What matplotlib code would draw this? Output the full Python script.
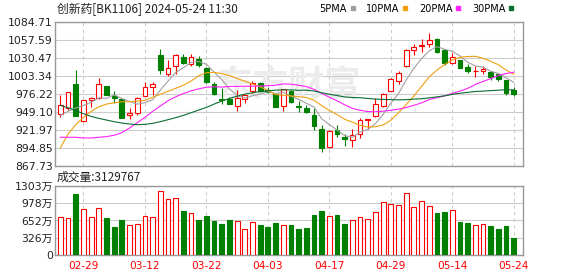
import matplotlib
matplotlib.use('Agg')
import matplotlib.pyplot as plt
from matplotlib.lines import Line2D
import numpy as np

plt.rcParams['font.family'] = ['DejaVu Sans', 'Noto Sans CJK SC']

# trading days shown (MM-DD)
days = ['02-26', '02-27', '02-28', '02-29',
        '03-01', '03-04', '03-05', '03-06', '03-07', '03-08', '03-11', '03-12', '03-13', '03-14',
        '03-15', '03-18', '03-19', '03-20', '03-21', '03-22', '03-25', '03-26', '03-27', '03-28', '03-29',
        '04-01', '04-02', '04-03', '04-08', '04-09', '04-10', '04-11', '04-12', '04-15', '04-16',
        '04-17', '04-18', '04-19', '04-22', '04-23', '04-24', '04-25', '04-26', '04-29', '04-30',
        '05-06', '05-07', '05-08', '05-09', '05-10', '05-13', '05-14', '05-15', '05-16', '05-17',
        '05-20', '05-21', '05-22', '05-23', '05-24']

open_ = [946.7, 955.7, 990.7, 935.2, 967.7, 970.2, 987.7, 973.7, 968.7, 944.7,
         948.2, 973.7, 987.2, 1035.7, 1006.7, 1018.2, 1032.7, 1021.7, 1029.2, 1015.7,
         991.0, 968.7, 969.2, 958.2, 969.2, 980.2, 993.2, 982.7, 975.7, 957.7,
         980.7, 958.7, 955.7, 945.2, 923.2, 895.7, 922.7, 910.7, 906.7, 915.2,
         937.0, 943.2, 958.2, 981.2, 995.7, 1018.2, 1042.7, 1048.7, 1051.7, 1059.2,
         1042.5, 1022.7, 1028.2, 1016.2, 1010.2, 1010.2, 1009.2, 1005.7, 996.7, 981.7]
high = [974.2, 978.7, 1011.7, 967.7, 971.7, 1000.7, 987.7, 980.7, 968.7, 955.7,
        971.7, 993.7, 993.7, 1044.7, 1028.2, 1036.7, 1036.7, 1036.7, 1033.2, 1016.7,
        994.0, 985.2, 971.7, 981.7, 974.7, 995.2, 994.2, 986.7, 977.7, 984.2,
        981.7, 965.7, 959.2, 955.7, 930.2, 921.7, 930.2, 916.7, 923.2, 940.2,
        938.2, 970.7, 978.2, 1000.7, 1010.2, 1043.7, 1051.7, 1059.2, 1067.5, 1060.7,
        1044.0, 1037.5, 1028.2, 1020.7, 1018.0, 1017.7, 1010.7, 1007.7, 997.7, 986.5]
low = [941.7, 951.7, 943.2, 934.2, 956.7, 969.0, 974.2, 962.7, 940.2, 938.2,
       944.2, 973.0, 974.7, 1006.7, 1003.7, 1006.7, 1021.7, 1017.7, 1016.7, 993.2,
       974.5, 961.7, 960.7, 950.7, 962.7, 978.2, 979.2, 977.7, 956.0, 950.7,
       962.7, 949.2, 947.7, 922.7, 888.2, 895.2, 910.7, 898.2, 896.7, 910.2,
       923.2, 941.7, 956.7, 980.2, 991.7, 1016.7, 1035.7, 1039.2, 1046.7, 1038.2,
       1020.5, 1021.2, 1015.7, 1007.7, 1002.5, 1006.7, 997.7, 995.7, 974.5, 972.7]
close = [959.2, 978.7, 943.2, 967.7, 970.2, 991.7, 975.2, 970.2, 940.2, 947.7,
         970.7, 987.2, 991.7, 1012.7, 1015.7, 1035.7, 1023.2, 1031.7, 1020.2, 994.2,
         976.0, 967.7, 961.7, 970.2, 974.7, 993.2, 980.7, 979.2, 956.7, 984.2,
         964.2, 957.2, 949.2, 928.7, 894.7, 920.7, 916.7, 907.7, 914.2, 936.7,
         938.2, 961.7, 976.7, 999.2, 1007.7, 1042.7, 1047.7, 1050.7, 1057.7, 1039.2,
         1022.5, 1032.2, 1015.7, 1010.7, 1011.2, 1013.2, 1001.7, 999.2, 977.7, 976.7]

# volume in 万
volume = [711, 692, 1152, 862, 711, 881, 699, 529, 661, 567,
          585, 737, 711, 1209, 1051, 1070, 831, 787, 661, 737,
          642, 585, 661, 642, 485, 617, 567, 529, 604, 567,
          567, 485, 504, 755, 831, 737, 755, 585, 661, 711,
          680, 806, 994, 963, 944, 1165, 900, 1013, 925, 793,
          812, 850, 623, 604, 567, 585, 548, 491, 548, 313]

ma5 = [944, 950, 955, 959, 963.8, 970.3, 969.6, 975.0, 969.5, 965.0,
       960.8, 963.2, 967.5, 982.0, 995.6, 1008.6, 1015.8, 1023.8, 1025.3, 1021.0,
       1009.1, 998.0, 984.0, 974.0, 970.1, 973.5, 976.1, 979.6, 976.9, 978.8,
       973.0, 968.3, 962.3, 956.7, 938.8, 930.1, 922.0, 913.7, 910.8, 919.2,
       922.7, 931.7, 945.5, 962.5, 976.7, 997.6, 1014.8, 1029.6, 1041.3, 1047.6,
       1043.6, 1040.5, 1033.5, 1024.1, 1018.5, 1016.6, 1010.5, 1007.2, 1000.6, 993.7]
ma10 = [895, 916, 930, 941, 950, 957, 961, 963, 964.5, 964.4,
        965.6, 966.4, 971.3, 975.8, 980.3, 984.7, 989.5, 995.7, 1003.7, 1008.3,
        1008.8, 1006.9, 1003.9, 999.6, 995.5, 991.3, 987.0, 981.8, 975.4, 974.4,
        973.3, 972.2, 971.0, 966.8, 958.8, 951.6, 945.2, 938.0, 933.8, 929.0,
        926.4, 926.9, 929.6, 936.7, 948.0, 960.2, 973.3, 987.6, 1001.9, 1012.2,
        1020.6, 1027.6, 1031.5, 1032.7, 1033.0, 1030.1, 1025.5, 1020.3, 1012.3, 1006.1]
ma20 = [911, 911, 911, 910, 910, 911, 912, 914, 918, 925,
        933, 941, 950, 958, 966, 972, 977, 981, 984, 986.4,
        987.2, 986.6, 987.6, 987.7, 987.9, 988.0, 988.3, 988.7, 989.5, 991.4,
        991.0, 989.5, 987.4, 983.2, 977.2, 971.4, 966.1, 959.9, 954.6, 951.7,
        949.8, 949.5, 950.3, 951.7, 953.4, 955.9, 959.2, 962.8, 967.8, 970.6,
        973.5, 977.2, 980.6, 984.7, 990.5, 995.1, 999.4, 1004.0, 1007.1, 1009.1]
ma30 = [959, 955.5, 951.5, 946.5, 942.5, 939.5, 937, 934.5, 932.5, 931,
        930, 930.5, 932, 934.5, 937.5, 940.5, 944, 948, 952, 956,
        961, 965.5, 969.5, 973, 976, 978, 980, 981, 982, 982.4,
        982.5, 981.8, 982.0, 980.7, 978.2, 975.8, 973.9, 971.8, 970.9, 970.6,
        969.5, 968.6, 968.1, 967.7, 967.4, 967.7, 968.5, 969.1, 970.4, 971.9,
        973.4, 975.6, 977.4, 978.7, 979.9, 980.6, 981.3, 982.0, 982.7, 982.4]

price_ticks = [867.73, 894.85, 921.97, 949.10, 976.22, 1003.34, 1030.47, 1057.59, 1084.71]
price_labels = ['867.73', '894.85', '921.97', '949.10', '976.22', '1003.34', '1030.47', '1057.59', '1084.71']
vol_ticks = [0, 326, 652, 978, 1303]
vol_labels = ['0', '326万', '652万', '978万', '1303万']
date_ticks = ['02-29', '03-12', '03-22', '04-03', '04-17', '04-29', '05-14', '05-24']

ma_names = ['5PMA', '10PMA', '20PMA', '30PMA']
ma_colors = ['#a0a0a0', '#f0a010', '#ff22ff', '#0a6e32']

RED = '#ff0000'
GREEN = '#008000'
W, H = 578, 276

x = np.arange(len(days))
o = np.array(open_)
c = np.array(close)
up = c >= o
vol = np.array(volume)
vol_up = np.r_[True, np.diff(c) >= 0]
tick_pos = [days.index(d) for d in date_ticks]

fig = plt.figure(figsize=(W / 100, H / 100), dpi=100)
fig.patch.set_facecolor('white')
ax = fig.add_axes([55 / W, 1 - 166 / H, 468 / W, 144 / H])
axv = fig.add_axes([55 / W, 1 - 255 / H, 468 / W, 69 / H])


def style(a):
    for s in a.spines.values():
        s.set_color('#999999')
        s.set_linewidth(1)
    a.tick_params(length=0, labelsize=7.8, colors='#222222', pad=1.5)
    a.set_xlim(-0.7, 60.2)
    a.set_xticks(tick_pos)
    a.grid(axis='y', color='#cccccc', lw=0.8)
    a.grid(axis='x', color='#cccccc', lw=0.8, ls=(0, (3, 3)))
    a.set_axisbelow(True)


# price panel
style(ax)
ax.set_ylim(price_ticks[0], price_ticks[-1])
ax.set_yticks(price_ticks)
ax.set_yticklabels(price_labels)
ax.set_xticklabels([])
ax.text(0.5, 0.56, '东方财富', transform=ax.transAxes, ha='center', va='center',
        fontsize=26, color='#ececec', weight='bold', family=['Noto Sans CJK SC'], zorder=1)

ax.vlines(x, low, high, colors=np.where(up, RED, GREEN), lw=0.8, zorder=2)
body_bottom = np.minimum(o, c)
body_h = np.abs(c - o)
ax.bar(x[up], body_h[up], bottom=body_bottom[up], width=0.62,
       facecolor='white', edgecolor=RED, lw=0.8, zorder=3)
ax.bar(x[~up], body_h[~up], bottom=body_bottom[~up], width=0.62,
       facecolor=GREEN, edgecolor=GREEN, lw=0.8, zorder=3)

for vals, col in zip([ma5, ma10, ma20, ma30], ma_colors):
    ax.plot(x, vals, color=col, lw=0.8, zorder=4)

# volume panel
style(axv)
axv.set_ylim(0, vol_ticks[-1])
axv.set_yticks(vol_ticks)
axv.set_yticklabels(vol_labels)
axv.set_xticklabels(date_ticks, color=RED, fontsize=7.6)
axv.tick_params(axis='x', pad=4)
axv.bar(x[vol_up], vol[vol_up], width=0.62, facecolor='white', edgecolor=RED, lw=0.8, zorder=3)
axv.bar(x[~vol_up], vol[~vol_up], width=0.62, facecolor=GREEN, edgecolor=GREEN, lw=0.8, zorder=3)

# texts
fig.text(57 / W, 1 - 9 / H, '创新药[BK1106] 2024-05-24 11:30', va='center', ha='left',
         fontsize=8.5, color='#222222', family=['Noto Sans CJK SC', 'DejaVu Sans'])
fig.text(57 / W, 1 - 177.5 / H, '成交量:3129767', va='center', ha='left',
         fontsize=8.5, color='#222222', family=['Noto Sans CJK SC', 'DejaVu Sans'])

handles = [Line2D([], [], marker='s', ls='none', color=col, markersize=3.5) for col in ma_colors]
fig.legend(handles, ma_names, loc='center right', bbox_to_anchor=(514 / W, 1 - 8.5 / H),
           ncol=4, markerfirst=False, frameon=False, fontsize=7, handlelength=0.6,
           handletextpad=0.3, columnspacing=1.1, borderpad=0, borderaxespad=0)

fig.savefig('out.png', dpi=100, facecolor='white')
